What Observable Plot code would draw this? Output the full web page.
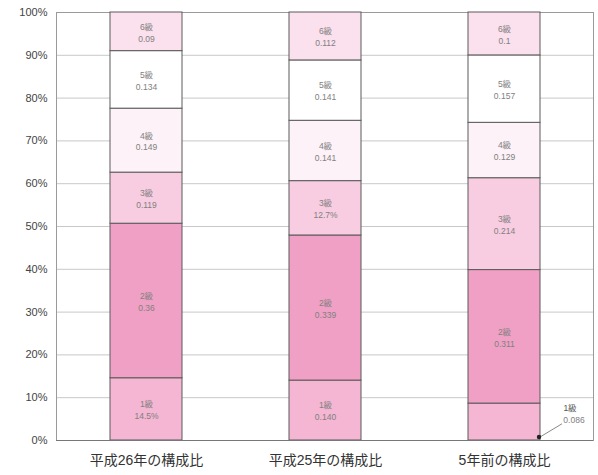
<!DOCTYPE html>
<html><head><meta charset="utf-8">
<script src="https://cdn.jsdelivr.net/npm/d3@7"></script>
<script src="https://cdn.jsdelivr.net/npm/@observablehq/plot@0.6"></script>
<style>
body{margin:0;background:#fff;}
#chart svg{font-family:"Liberation Sans","Noto Sans CJK JP",sans-serif;}
</style>
</head><body><div id="chart"></div>
<script>
const categories = ["平成26年の構成比","平成25年の構成比","5年前の構成比"];
const grades = ["1級","2級","3級","4級","5級","6級"];
const values26 = [0.145, 0.360, 0.119, 0.149, 0.134, 0.090];
const values25 = [0.140, 0.339, 0.127, 0.141, 0.141, 0.112];
const values5y = [0.086, 0.311, 0.214, 0.129, 0.157, 0.100];
const labels26 = ["14.5%", "0.36", "0.119", "0.149", "0.134", "0.09"];
const labels25 = ["0.140", "0.339", "12.7%", "0.141", "0.141", "0.112"];
const labels5y = ["0.086", "0.311", "0.214", "0.129", "0.157", "0.1"];
const gradeColors = ["#f4b6d2","#f0a0c4","#f8cde1","#fdf2f7","#ffffff","#fbe1ed"];
const yTicks = [0,0.1,0.2,0.3,0.4,0.5,0.6,0.7,0.8,0.9,1];

const series = [values26, values25, values5y];
const labelSets = [labels26, labels25, labels5y];
const rows = [];
categories.forEach((c, i) => grades.forEach((g, j) => rows.push({
  cat: c, grade: g, value: series[i][j], label: g + "\n" + labelSets[i][j],
  inside: !(i === 2 && j === 0)
})));

const chart = Plot.plot({
  width: 598, height: 475,
  marginLeft: 56, marginRight: 5, marginTop: 12, marginBottom: 35,
  x: {domain: categories, paddingInner: 0.6, paddingOuter: 0.3, label: null, tickSize: 0, tickPadding: 15},
  y: {domain: [0,1], ticks: yTicks, tickFormat: d3.format(".0%"), label: null, tickSize: 0, tickPadding: 9},
  color: {domain: grades, range: gradeColors},
  style: {fontSize: "11px", color: "#444"},
  marks: [
    Plot.ruleY(yTicks, {stroke: "#c8c8c8"}),
    Plot.frame({stroke: "#9a9a9a"}),
    Plot.barY(rows, Plot.stackY({offset: "normalize", x: "cat", y: "value", fill: "grade", stroke: "#5a5a5a", strokeWidth: 1})),
    Plot.text(rows, Plot.stackY({offset: "normalize", x: "cat", y: "value", text: d => d.inside ? d.label : "", fill: "#808080", fontSize: 8.5, lineHeight: 1.4})),
    Plot.ruleY([0], {stroke: "#777"})
  ]
});
document.getElementById("chart").appendChild(chart);

// axis label styling
d3.select(chart).selectAll("g[aria-label='x-axis tick label'] text").attr("font-size", 14).attr("fill", "#333");

// annotation for the small 1級 segment of the third bar
const xs = chart.scale("x"), ys = chart.scale("y");
const lastCat = categories[2];
const bx = xs.apply(lastCat) + xs.bandwidth;
const by = ys.apply(0.007);
const svg = d3.select(chart);
const ann = svg.append("g");
ann.append("line").attr("x1", bx).attr("y1", by).attr("x2", bx + 22).attr("y2", ys.apply(0.038)).attr("stroke", "#888").attr("stroke-width", 1);
ann.append("circle").attr("cx", bx - 1).attr("cy", by).attr("r", 2.2).attr("fill", "#222");
ann.append("text").attr("x", bx + 30).attr("y", ys.apply(0.067)).attr("text-anchor", "middle").attr("font-size", 8.5).attr("fill", "#555").text(grades[0]);
ann.append("text").attr("x", bx + 34).attr("y", ys.apply(0.04)).attr("text-anchor", "middle").attr("font-size", 8.5).attr("fill", "#808080").text(labels5y[0]);
</script>
</body></html>
